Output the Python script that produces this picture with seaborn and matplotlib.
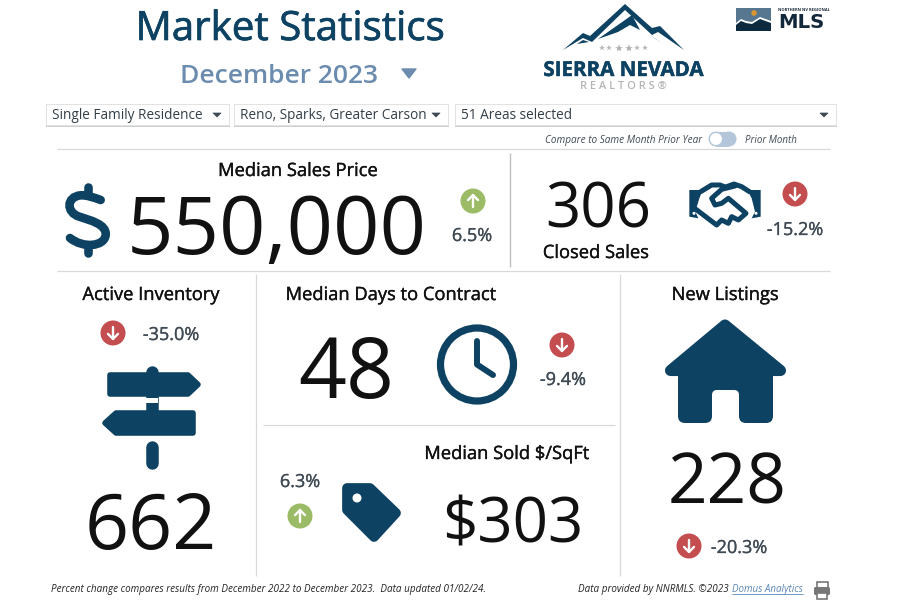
import numpy as np
import seaborn as sns
import matplotlib.pyplot as plt
import matplotlib.patheffects as pe
from matplotlib.path import Path
from matplotlib.patches import Polygon, Rectangle, Circle, FancyBboxPatch, PathPatch

# Values
report_month = "December 2023"
filter_labels = ["Single Family Residence", "Reno, Sparks, Greater Carson", "51 Areas selected"]
metric_names = ["Median Sales Price", "Closed Sales", "Active Inventory",
                "Median Days to Contract", "Median Sold $/SqFt", "New Listings"]
metric_values = ["550,000", "306", "662", "48", "$303", "228"]
metric_changes = [6.5, -15.2, -35.0, -9.4, 6.3, -20.3]

# Layout of the tiles, in screen pixels
name_x = [298, 596, 151, 391, 507, 725]
name_y = [176, 258, 300, 300, 459, 300]
value_x = [276.5, 598, 151, 346, 513, 727.5]
value_y = [254, 227, 549, 398, 542, 503]
value_size = [58.5, 44.5, 55.5, 60.5, 44.5, 50]
badge_x = [473, 795, 113, 562, 300, 689]
badge_y = [201, 194, 333, 345, 516, 546]
change_x = [472, 795, 171, 563, 300, 739]
change_y = [241, 235, 340, 385, 487, 553]

NAVY = "#0d4263"
TEXT = "#111111"
SUB = "#3f4a54"
LINE = "#d9d9d9"

sns.set_theme(style="white")
plt.rcParams['font.family'] = ['Open Sans', 'DejaVu Sans']

fig = plt.figure(figsize=(8.98, 6.06), dpi=100)
ax = fig.add_axes([0, 0, 1, 1])
ax.set_xlim(0, 898)
ax.set_ylim(606, 0)
ax.axis('off')


def label(x, y, s, size=13, color=TEXT, ha='center', heavy=0, **kw):
    t = ax.text(x, y, s, fontsize=size, color=color, ha=ha, va='baseline', **kw)
    if heavy:
        t.set_path_effects([pe.withStroke(linewidth=heavy, foreground=color)])
    return t


def shape(points, color=NAVY, lw=0.0, zorder=3):
    ax.add_patch(Polygon(points, closed=True, facecolor=color, edgecolor=color,
                         linewidth=lw, joinstyle='round', zorder=zorder))


def stroke(points, color=NAVY, lw=3.0, zorder=3):
    pts = np.array(points)
    ax.plot(pts[:, 0], pts[:, 1], color=color, lw=lw, solid_capstyle='round',
            solid_joinstyle='round', zorder=zorder)


# Header
label(290, 40, "Market Statistics", size=29, color=NAVY, heavy=0.5)
label(279, 83, report_month, size=19, color="#6b8cae", weight=600)
shape([(402, 69), (416, 69), (409, 78)], color="#6b8cae", lw=1)

# Filter boxes
box_left = [46, 234, 455]
box_right = [229, 448, 836]
for left, right, text in zip(box_left, box_right, filter_labels):
    ax.add_patch(Rectangle((left - 0.5, 104), right - left + 1.5, 23, facecolor="#cfcfcf", edgecolor='none', zorder=1))
    ax.add_patch(Rectangle((left, 103.5), right - left, 21.5, facecolor='white', edgecolor="#e2e2e2", lw=0.6, zorder=2))
    label(left + 6, 119, text, size=9.85, color="#333f48", ha='left', zorder=3)
    shape([(right - 16, 113), (right - 8, 113), (right - 12, 117)], color=SUB, lw=0.5)

# Compare toggle
label(702, 143, "Compare to Same Month Prior Year", size=7.2, color=SUB, ha='right', style='italic')
label(745, 143, "Prior Month", size=7.05, color=SUB, ha='left', style='italic')
ax.add_patch(Rectangle((716, 131.5), 13, 15, facecolor="#b3c6da", edgecolor='none', zorder=2))
ax.add_patch(Circle((716, 139), 7.5, facecolor="#b3c6da", edgecolor='none', zorder=2))
ax.add_patch(Circle((729, 139), 7.5, facecolor="#b3c6da", edgecolor='none', zorder=2))
ax.add_patch(Circle((716, 139), 6, facecolor='white', edgecolor='none', zorder=3))

# Divider lines
ax.hlines([149, 271], 57, 830, color=LINE, lw=0.9)
ax.hlines(425, 263, 615, color=LINE, lw=0.9)
ax.vlines(510, 153, 267, color="#bdbdbd", lw=1.0)
ax.vlines([256, 620], 274, 576, color=LINE, lw=0.9)

# Sierra Nevada logo
shape([(563, 50), (583, 33), (590, 36), (625, 4), (652, 28), (660, 26), (684, 50),
       (658, 32), (652, 35), (625, 10), (592, 42), (583, 38)])
shape([(598, 39), (625, 20), (632, 15), (640, 30), (630, 25), (618, 32)])
shape([(650, 35), (663, 44), (654, 38)])
shape([(577, 44), (589, 42), (583, 40)])
star_x = [602, 609, 619, 629, 637, 645]
star_size = [4, 4, 6, 6, 4, 4]
for sx, ms in zip(star_x, star_size):
    ax.plot(sx, 48, marker='*', ms=ms, color="#b5b5b5", mew=0, zorder=3)
label(623.5, 76, "SIERRA NEVADA", size=14.8, color=NAVY, weight='bold', heavy=0.3)
label(623.5, 89, "R E A L T O R S ®", size=8, color="#b5b5b5", weight=600)

# MLS logo
ax.add_patch(Rectangle((736, 8), 35, 23, facecolor="#56778f", edgecolor='none', zorder=2))
ax.add_patch(Circle((754, 13), 2.8, facecolor="#d9962f", edgecolor='none', zorder=3))
shape([(736, 23), (741, 19), (746, 21), (752, 22), (760, 17), (771, 21), (771, 31), (736, 31)],
      color='white', zorder=3)
shape([(736, 25), (741, 21), (746, 23), (752, 24), (760, 19), (771, 23), (771, 31), (736, 31)],
      color="#0e2a3f", zorder=4)
label(778, 11, "NORTHERN NV REGIONAL", size=2.9, color="#1a2a3a", ha='left', weight='bold')
label(778, 28, "MLS", size=14.2, color="#13283a", ha='left', weight='bold', family=['DejaVu Sans'])

# Metric names, values and changes
for i, name in enumerate(metric_names):
    label(name_x[i], name_y[i], name, size=13.2, heavy=0.25)
    label(value_x[i], value_y[i], metric_values[i], size=value_size[i])
    label(change_x[i], change_y[i], f"{metric_changes[i]:.1f}%", size=13, color=SUB, heavy=0.2)

# Change badges
direction = ["up" if c > 0 else "down" for c in metric_changes]
sns.scatterplot(x=badge_x, y=badge_y, hue=direction, palette={"up": "#9bbb66", "down": "#c44d4f"},
                s=324, linewidth=0, legend=False, ax=ax, zorder=3)
for bx, by, way in zip(badge_x, badge_y, direction):
    tip = -6 if way == "up" else 6
    stroke([(bx, by - 6), (bx, by + 6)], color='white', lw=1.7, zorder=4)
    stroke([(bx - 5, by + tip * 0.15), (bx, by + tip), (bx + 5, by + tip * 0.15)], color='white', lw=1.7, zorder=4)

# Icons
# dollar sign
ds = lambda pts: [(40 + x / 3, 150 + y / 3) for x, y in pts]
s_curve = ds([(182, 150), (160, 142), (140, 135), (122, 136), (78, 140), (78, 188), (118, 200),
              (150, 211), (200, 222), (197, 255), (193, 290), (130, 296), (90, 264)])
s_codes = [Path.MOVETO] + [Path.CURVE4] * 12
ax.add_patch(PathPatch(Path(s_curve, s_codes), facecolor='none', edgecolor=NAVY, lw=6.2,
                       capstyle='round', zorder=3))
stroke(ds([(143, 112), (143, 135)]), lw=6.2)
stroke(ds([(143, 290), (143, 310)]), lw=6.2)

# handshake
hs = lambda pts: [(670 + x / 3, 170 + y / 3) for x, y in pts]
shape(hs([(58, 60), (98, 60), (88, 85), (76, 125), (85, 145), (58, 140)]))
shape(hs([(272, 60), (232, 60), (245, 85), (255, 125), (245, 145), (272, 140)]))
stroke(hs([(92, 65), (125, 45), (150, 45), (168, 52)]), lw=3.6)
stroke(hs([(170, 50), (192, 42), (215, 50), (238, 65)]), lw=3.6)
stroke(hs([(195, 48), (155, 58), (125, 85), (135, 105), (155, 100), (175, 85), (228, 130),
           (205, 150), (185, 140), (175, 160), (155, 150), (140, 165), (120, 150), (78, 118)]), lw=3.6)
ax.add_patch(Circle((670 + 72 / 3, 170 + 130 / 3), 1.5, facecolor='white', edgecolor='none', zorder=4))
ax.add_patch(Circle((670 + 258 / 3, 170 + 130 / 3), 1.5, facecolor='white', edgecolor='none', zorder=4))

# signpost
stroke([(151.5, 372), (151.5, 410)], lw=9)
stroke([(151.5, 447), (151.5, 463)], lw=9)
shape([(110, 375), (188, 375), (198, 384.5), (188, 394), (110, 394)], lw=4)
shape([(193, 413), (116, 413), (105, 423), (116, 433), (193, 433)], lw=4)
ax.add_patch(Rectangle((145, 397.5), 13, 5.5, facecolor='white', edgecolor='none', zorder=4))

# clock
ax.add_patch(Circle((477, 364.5), 36.5, facecolor='none', edgecolor=NAVY, lw=5.2, zorder=3))
stroke([(477, 341), (477, 364.5), (493, 375)], lw=4.3)

# tag
shape([(347, 488), (370, 488), (396, 513), (374, 537), (347, 510)], lw=7)
ax.add_patch(Circle((357, 498), 4.5, facecolor='white', edgecolor='none', zorder=4))

# house
shape([(725, 325), (780.5, 370.5), (670.5, 370.5)], lw=8)
ax.add_patch(Rectangle((678, 363), 95, 42, facecolor=NAVY, edgecolor='none', zorder=3))
ax.add_patch(FancyBboxPatch((716, 394), 19, 16, boxstyle="round,pad=4,rounding_size=5",
                            facecolor='white', edgecolor='none', zorder=4))
ax.add_patch(FancyBboxPatch((684, 395), 22, 22, boxstyle="round,pad=6,rounding_size=7",
                            facecolor=NAVY, edgecolor='none', zorder=5))
ax.add_patch(FancyBboxPatch((745, 395), 22, 22, boxstyle="round,pad=6,rounding_size=7",
                            facecolor=NAVY, edgecolor='none', zorder=5))

# Footer
label(51, 592, "Percent change compares results from December 2022 to December 2023.  Data updated 01/02/24.",
      size=7.1, color="#222222", ha='left', style='italic')
label(578, 592, "Data provided by NNRMLS. ©2023", size=7.1, color="#222222", ha='left', style='italic')
label(732, 592, "Domus Analytics", size=7.05, color="#5b87b5", ha='left', style='italic')
ax.hlines(594, 732, 803, color="#5b87b5", lw=0.6)

# printer icon
ax.add_patch(Rectangle((816.5, 581.5), 11, 6, facecolor='none', edgecolor="#777777", lw=1.2, zorder=3))
ax.add_patch(FancyBboxPatch((815, 588), 14, 6, boxstyle="round,pad=1,rounding_size=1.5",
                            facecolor="#777777", edgecolor='none', zorder=3))
ax.add_patch(Rectangle((817, 593), 10, 6, facecolor='white', edgecolor="#777777", lw=1.2, zorder=4))

fig.savefig("out.png", dpi=100, facecolor='white')
